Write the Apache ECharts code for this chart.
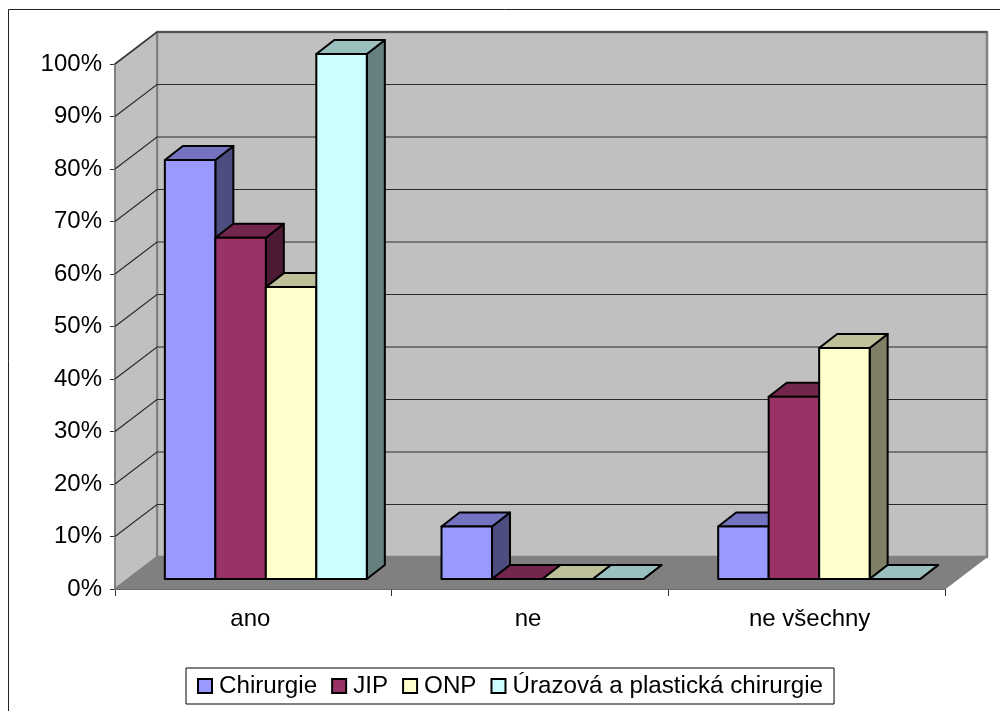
<!DOCTYPE html>
<html>
<head>
<meta charset="utf-8">
<title>Chart</title>
<style>
  html, body { margin: 0; padding: 0; background: #fff; }
  #chart { width: 1000px; height: 711px; }
</style>
<script src="https://cdn.jsdelivr.net/npm/echarts@6/dist/echarts.min.js"></script>
</head>
<body>
<div id="chart"></div>
<script>
// Chart data
const categories = ['ano', 'ne', 'ne všechny'];
const chirurgie = [79.8, 10, 10];
const jip = [65, 0, 34.7];
const onp = [55.6, 0, 44];
const urazova = [100, 0, 0];
const yTicks = [0, 10, 20, 30, 40, 50, 60, 70, 80, 90, 100];

// Front, top and side face colours per series
const palette = [
  { name: 'Chirurgie', values: chirurgie, front: '#9999FF', top: '#7373BF', side: '#4D4D80' },
  { name: 'JIP', values: jip, front: '#993366', top: '#73264D', side: '#4D1A33' },
  { name: 'ONP', values: onp, front: '#FFFFCC', top: '#BFBF99', side: '#808066' },
  { name: 'Úrazová a plastická chirurgie', values: urazova, front: '#CCFFFF', top: '#99BFBF', side: '#668080' }
];

// Oblique projection of the box
const WALL_DX = 42, WALL_DY = -32;    // depth of the whole chart box
const BAR_DX = 18, BAR_DY = -14;      // depth of one bar
const BAR_LIFT = -10;                 // bars stand this far behind the front floor edge
const BAR_RATIO = 0.1825;             // bar width relative to a category band
const GROUP_SHIFT = 12.5;             // bars sit slightly right of the band centre
const FONT = '"Liberation Sans", Arial, sans-serif';

function poly(points, fill, stroke, width) {
  return {
    type: 'polygon',
    shape: { points },
    style: { fill, stroke: stroke || null, lineWidth: width || 0, lineJoin: 'round' }
  };
}

// Back wall, side wall and floor of the box
function renderBox(params, api) {
  const c = params.coordSys;
  const l = c.x, r = c.x + c.width, t = c.y, b = c.y + c.height;
  const grey = '#808080';
  return {
    type: 'group',
    children: [
      poly([[l + WALL_DX, t + WALL_DY], [r + WALL_DX, t + WALL_DY], [r + WALL_DX, b + WALL_DY], [l + WALL_DX, b + WALL_DY]], '#C0C0C0', grey, 2.5),
      poly([[l, b], [l, t], [l + WALL_DX, t + WALL_DY], [l + WALL_DX, b + WALL_DY]], '#C0C0C0', grey, 2),
      poly([[l, b], [l + WALL_DX, b + WALL_DY], [r + WALL_DX, b + WALL_DY], [r, b]], grey, grey, 1)
    ]
  };
}

// One gridline per tick, running across the side wall and the back wall
function renderGridline(params, api) {
  const c = params.coordSys;
  const y = api.coord([0, api.value(0)])[1];
  const l = c.x, r = c.x + c.width;
  return {
    type: 'polyline',
    shape: { points: [[l, y], [l + WALL_DX, y + WALL_DY], [r + WALL_DX, y + WALL_DY]] },
    style: { fill: null, stroke: '#2a2a2a', lineWidth: 1.2 }
  };
}

// A single 3D bar: side and top faces first, then the front
function barRenderer(seriesPos, colours) {
  return function (params, api) {
    const cat = api.value(0), val = api.value(1);
    const band = api.size([1, 0])[0];
    const w = band * BAR_RATIO;
    const centre = api.coord([cat, 0]);
    const topPt = api.coord([cat, val]);
    const x0 = centre[0] + GROUP_SHIFT + (seriesPos - 2) * w;
    const x1 = x0 + w;
    const yb = centre[1] + BAR_LIFT;
    const yt = topPt[1] + BAR_LIFT;
    const stroke = '#000';
    const lw = 2;
    return {
      type: 'group',
      children: [
        poly([[x1, yb], [x1 + BAR_DX, yb + BAR_DY], [x1 + BAR_DX, yt + BAR_DY], [x1, yt]], colours.side, stroke, lw),
        poly([[x0, yt], [x0 + BAR_DX, yt + BAR_DY], [x1 + BAR_DX, yt + BAR_DY], [x1, yt]], colours.top, stroke, lw),
        poly([[x0, yb], [x0, yt], [x1, yt], [x1, yb]], colours.front, stroke, lw)
      ]
    };
  };
}

const chart = echarts.init(document.getElementById('chart'), null, { renderer: 'canvas' });

chart.setOption({
  animation: false,
  backgroundColor: '#fff',
  textStyle: { fontFamily: FONT },
  grid: { left: 115, width: 830, top: 64, height: 525, containLabel: false },
  xAxis: {
    type: 'category',
    data: categories,
    axisLine: { lineStyle: { color: '#222', width: 1.5 } },
    axisTick: { show: true, length: 7, alignWithLabel: false, lineStyle: { color: '#333' } },
    axisLabel: {
      color: '#000',
      fontSize: 24,
      fontFamily: FONT,
      margin: 18,
      // The outer labels sit a few pixels off their band centres
      formatter: (v, i) => '{c' + i + '|' + v + '}',
      rich: {
        c0: { fontSize: 24, fontFamily: FONT, padding: [0, 6, 0, 0] },
        c1: { fontSize: 24, fontFamily: FONT, padding: [0, 4, 0, 0] },
        c2: { fontSize: 24, fontFamily: FONT, padding: [0, 0, 0, 6] }
      }
    },
    splitLine: { show: false }
  },
  yAxis: {
    type: 'value',
    min: 0,
    max: 100,
    interval: 10,
    axisLine: { show: true, lineStyle: { color: '#222', width: 1 } },
    axisTick: { show: true, length: 5, lineStyle: { color: '#333' } },
    axisLabel: { color: '#000', fontSize: 24, fontFamily: FONT, margin: 13, formatter: '{value}%' },
    splitLine: { show: false }
  },
  legend: {
    data: palette.map(p => p.name),
    left: 186,
    top: 668,
    padding: [6, 11, 6, 11],
    itemGap: 14,
    itemWidth: 14,
    itemHeight: 14,
    backgroundColor: '#fff',
    borderColor: '#000',
    borderWidth: 1,
    icon: 'rect',
    textStyle: { color: '#000', fontSize: 24.2, fontFamily: FONT, padding: [0, 0, 0, 2] }
  },
  graphic: [{
    type: 'polyline',
    silent: true,
    shape: { points: [[8.5, 760], [8.5, 9.5], [1040, 9.5]] },
    style: { fill: null, stroke: '#222', lineWidth: 1 }
  }],
  series: [
    { type: 'custom', name: 'box', silent: true, z: 1, renderItem: renderBox, data: [[0]], encode: { x: 0 } },
    { type: 'custom', name: 'grid', silent: true, z: 1.5, renderItem: renderGridline,
      data: yTicks.filter(t => t > 0).map(t => [t]), encode: { y: 0 } }
  ].concat(palette.map((p, i) => ({
    type: 'custom',
    name: p.name,
    z: 2,
    renderItem: barRenderer(i, p),
    itemStyle: { color: p.front, borderColor: '#000', borderWidth: 2 },
    encode: { x: 0, y: 1 },
    data: p.values.map((v, k) => [k, v])
  })))
});
</script>
</body>
</html>
